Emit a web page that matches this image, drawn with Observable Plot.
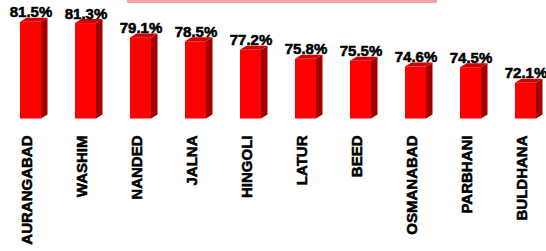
<!DOCTYPE html>
<html><head><meta charset="utf-8">
<script src="https://cdn.jsdelivr.net/npm/d3@7"></script>
<script src="https://cdn.jsdelivr.net/npm/@observablehq/plot@0.6"></script>
<style>
body{margin:0;background:#fff;}
#wrap{position:relative;width:546px;height:251px;overflow:hidden;}
#banner{position:absolute;left:127px;top:0;width:310px;height:3px;background:#f6a3a3;}
#chart text{font-weight:bold;stroke:#000;stroke-width:0.55px;}
</style></head><body>
<div id="wrap"><div id="banner"></div><div id="chart"></div></div>
<script>
const districts = ["AURANGABAD","WASHIM","NANDED","JALNA","HINGOLI","LATUR","BEED","OSMANABAD","PARBHANI","BULDHANA"];
const literacy = [81.5, 81.3, 79.1, 78.5, 77.2, 75.8, 75.5, 74.6, 74.5, 72.1];
const valueLabels = ["81.5%","81.3%","79.1%","78.5%","77.2%","75.8%","75.5%","74.6%","74.5%","72.1%"];
const baseline = 66.6;
const yTop = 84.86;
const data = districts.map((d, i) => ({district: d, value: literacy[i], label: valueLabels[i]}));

function faces(index, scales) {
  const x = scales.x, y = scales.y;
  const bw = typeof x.bandwidth === "function" ? x.bandwidth() : x.bandwidth;
  const dx = 6.5, dy = -4;
  const g = d3.create("svg:g");
  for (const d of data) {
    const xl = x(d.district), xr = xl + bw, yt = y(d.value), yb = y(baseline);
    g.append("path").attr("d", `M${xr},${yt}L${xr+dx},${yt+dy}L${xr+dx},${yb+dy}L${xr},${yb}Z`).attr("fill", "#a20000");
    g.append("path").attr("d", `M${xl},${yt}L${xr},${yt}L${xr+dx},${yt+dy}L${xl+dx},${yt+dy}Z`).attr("fill", "#d20000");
  }
  return g.node();
}

const chart = Plot.plot({
  width: 546, height: 251,
  marginLeft: 20, marginRight: 9.5, marginTop: 0, marginBottom: 132.5,
  x: {domain: districts, paddingInner: 0.61, paddingOuter: 0, align: 0.5},
  y: {domain: [baseline, yTop], axis: null},
  style: {fontFamily: "'Liberation Sans', Arial, sans-serif", background: "white", overflow: "visible"},
  marks: [
    Plot.barY(data, {x: "district", y1: () => baseline, y2: "value", fill: "#ff0000"}),
    faces,
    Plot.text(data, {x: "district", y: "value", text: "label", lineAnchor: "bottom", dy: -5, fontSize: 15, fontWeight: "bold", fill: "black"}),
    Plot.axisX({tickSize: 0, tickRotate: -90, tickPadding: 16.5, fontSize: 15, fontWeight: "bold", dx: -4, label: null, fill: "black"})
  ]
});
document.getElementById("chart").appendChild(chart);
</script>
</body></html>
